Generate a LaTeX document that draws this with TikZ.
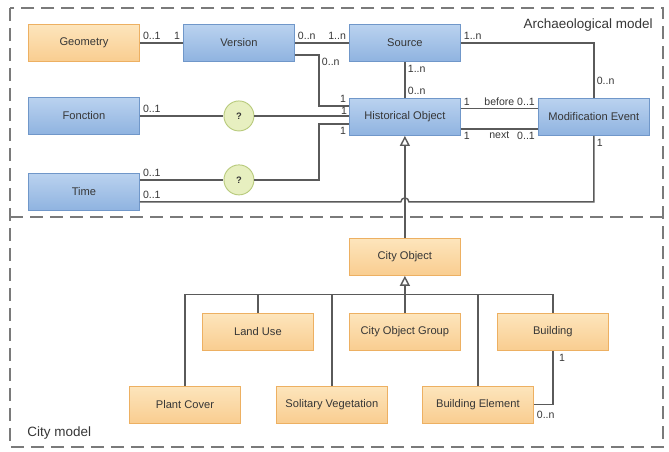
\documentclass[tikz,border=0pt]{standalone}
\usepackage{fontspec}
\setmainfont{Liberation Sans}
\usetikzlibrary{positioning,arrows.meta,calc}

\definecolor{lineg}{HTML}{5A5A5A}
\definecolor{frameg}{HTML}{7A7A7A}
\definecolor{txtg}{HTML}{363636}
\definecolor{orfill}{HTML}{FDE5BC}
\definecolor{orfillb}{HTML}{F9CD90}
\definecolor{ordraw}{HTML}{EDB062}
\definecolor{blfill}{HTML}{BAD2EF}
\definecolor{blfillb}{HTML}{8FB3E0}
\definecolor{bldraw}{HTML}{7097C9}
\definecolor{qfill}{HTML}{E7EFC0}
\definecolor{qdraw}{HTML}{B9CB7E}

\tikzset{
    cls/.style={rectangle, minimum width=3.33cm, minimum height=1.11cm, inner sep=1pt,
        font=\fontsize{9.5}{11}\selectfont, text=txtg, line width=0.8pt},
    obox/.style={cls, draw=ordraw, top color=orfill, bottom color=orfillb},
    bbox/.style={cls, draw=bldraw, top color=blfill, bottom color=blfillb},
    qmark/.style={circle, draw=qdraw, fill=qfill, line width=0.8pt, minimum size=0.9cm,
        inner sep=0pt, font=\fontsize{8}{9}\selectfont\bfseries, text=txtg},
    conn/.style={draw=lineg, line width=1.2pt},
    lbl/.style={font=\fontsize{9}{10}\selectfont, text=txtg, inner sep=2pt},
    frame/.style={draw=frameg, line width=1.2pt, dash pattern=on 0.4cm off 0.2cm},
    title/.style={font=\fontsize{11.5}{13}\selectfont, text=txtg},
    inh/.tip={Triangle[width=0.3cm, length=0.3cm, fill=white]}
}

\begin{document}
\begin{tikzpicture}[]
    \useasboundingbox (0,0) rectangle (20.07,-13.53);
    \draw[frame] (0.3,-0.24) rectangle (19.89,-13.41);
    \draw[frame] (0.3,-6.51) -- (19.89,-6.51);
    \node[title, anchor=north east] (archlbl) at (19.7,-0.45) {Archaeological model};
    \node[title, anchor=south west] (citylbl) at (0.7,-13.3) {City model};

    \node[obox] (geom) at (2.52,-1.29) {Geometry};
    \node[bbox, right=1.29cm of geom] (version) {Version};
    \node[bbox, right=1.62cm of version] (source) {Source};
    \node[bbox, below=1.08cm of source] (histobj) {Historical Object};
    \node[bbox, right=2.31cm of histobj] (modev) {Modification Event};
    \node[bbox, below=1.05cm of geom] (fonction) {Fonction};
    \node[bbox, below=1.14cm of fonction] (time) {Time};
    \node[qmark] (q1) at (fonction -| version) {?};
    \node[qmark, yshift=0.36cm] (q2) at (time -| version) {?};

    \node[obox, below=3.06cm of histobj] (cityobj) {City Object};
    \node[obox, below=1.11cm of cityobj] (cogroup) {City Object Group};
    \node[obox, left=1.05cm of cogroup] (landuse) {Land Use};
    \node[obox, right=1.08cm of cogroup] (building) {Building};
    \node[obox, below=1.05cm of landuse, xshift=-2.19cm] (plantcover) {Plant Cover};
    \node[obox, below=1.05cm of cogroup, xshift=-2.19cm] (solveg) {Solitary Vegetation};
    \node[obox, below=1.05cm of cogroup, xshift=2.19cm] (buildelem) {Building Element};

    \draw[conn] (geom) -- node[lbl, pos=0, above right]{0..1} node[lbl, pos=1, above left]{1} (version);
    \draw[conn] (version) -- node[lbl, pos=0, above right]{0..n} node[lbl, pos=1, above left]{1..n} (source);
    \draw[conn] ([yshift=-0.36cm]version.east) -| node[lbl, pos=0.5, below right]{0..n}
        ([xshift=-0.9cm, yshift=0.33cm]histobj.west) -- node[lbl, pos=1, above left]{1} ([yshift=0.33cm]histobj.west);
    \draw[conn] (fonction) -- node[lbl, pos=0, above right]{0..1} (q1);
    \draw[conn] (q1) -- node[lbl, pos=1, above left, inner sep=1pt]{1} (q1 -| histobj.west);
    \draw[conn] ([yshift=0.36cm]time.east) -- node[lbl, pos=0, above right]{0..1} (q2);
    \draw[conn] (q2) -| ([xshift=-0.9cm, yshift=-0.21cm]histobj.west)
        -- node[lbl, pos=1, below left]{1} ([yshift=-0.21cm]histobj.west);
    \coordinate (tlow) at ([yshift=-0.3cm]time.east);
    \draw[conn] (tlow) -- node[lbl, pos=0, above right]{0..1} ($(tlow -| histobj.south)+(-0.12,0)$)
        arc[start angle=180, end angle=0, radius=0.12cm] -| node[lbl, pos=1, below right]{1} (modev.south);
    \draw[conn] (source) -| node[lbl, pos=0, above right]{1..n} node[lbl, pos=1, above right, yshift=0.3cm]{0..n} (modev);
    \draw[conn] (source) -- node[lbl, pos=0, below right]{1..n} node[lbl, pos=1, above right]{0..n} (histobj);
    \draw[conn] ([yshift=0.25cm]histobj.east) -- node[lbl, pos=0, above right]{1} node[lbl, midway, above]{before}
        node[lbl, pos=1, above left]{0..1} ([yshift=0.25cm]modev.west);
    \draw[conn] ([yshift=-0.36cm]histobj.east) -- node[lbl, pos=0, below right]{1} node[lbl, midway, below]{next}
        node[lbl, pos=1, below left]{0..1} ([yshift=-0.36cm]modev.west);
    \draw[conn, -{inh}] (cityobj) -- (histobj);

    \coordinate (bus) at ($(cityobj.south)!0.5!(cogroup.north)$);
    \draw[conn] (plantcover.north) |- (bus) -| (building.north);
    \foreach \n in {landuse, solveg, buildelem}
        \draw[conn] (\n.north) -- (\n.north |- bus);
    \draw[conn, -{inh}] (cogroup) -- (cityobj);
    \draw[conn] (building.south) |- node[lbl, pos=0, below right, xshift=0.1cm]{1}
        node[lbl, pos=1, below right, yshift=-0.1cm]{0..n} (buildelem.east);
\end{tikzpicture}
\end{document}
